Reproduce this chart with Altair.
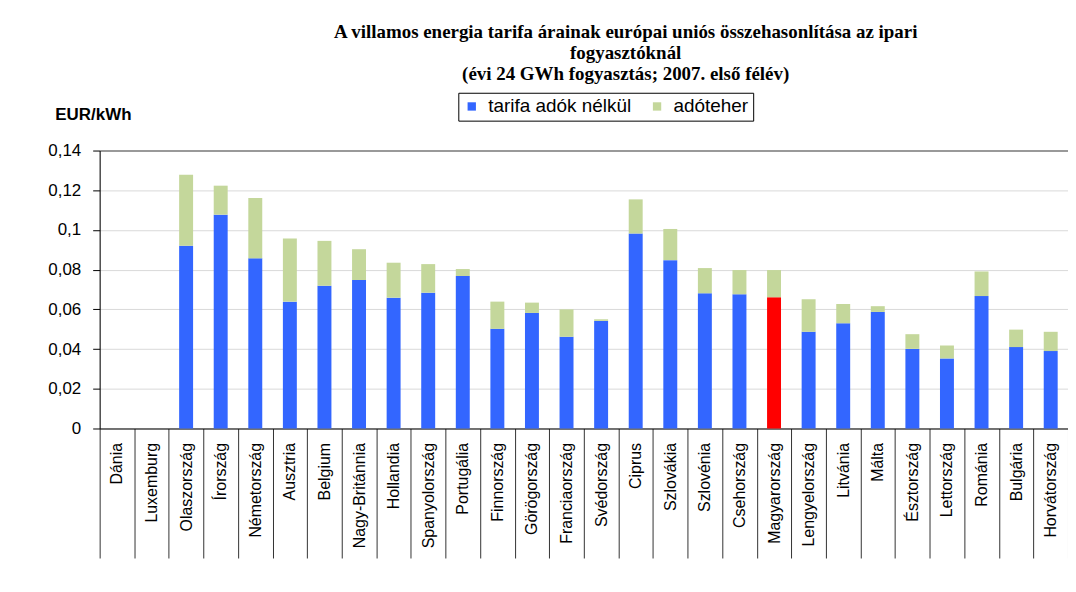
import altair as alt
import pandas as pd

countries = ["Dánia", "Luxemburg", "Olaszország", "Írország", "Németország", "Ausztria",
             "Belgium", "Nagy-Británnia", "Hollandia", "Spanyolország", "Portugália",
             "Finnország", "Görögország", "Franciaország", "Svédország", "Ciprus",
             "Szlovákia", "Szlovénia", "Csehország", "Magyarország", "Lengyelország",
             "Litvánia", "Málta", "Észtország", "Lettország", "Románia", "Bulgária",
             "Horvátország"]
tarifa = [0.0, 0.0, 0.0920, 0.1077, 0.0857, 0.0639, 0.0719, 0.0748, 0.0659, 0.0684, 0.0768,
          0.0502, 0.0582, 0.0462, 0.0542, 0.0982, 0.0848, 0.0681, 0.0676, 0.0661, 0.0487,
          0.0530, 0.0587, 0.0401, 0.0353, 0.0667, 0.0410, 0.0390]
adoteher = [0.0, 0.0, 0.0358, 0.0146, 0.0304, 0.0318, 0.0226, 0.0155, 0.0176, 0.0144, 0.0035,
            0.0137, 0.0052, 0.0138, 0.0008, 0.0172, 0.0157, 0.0127, 0.0122, 0.0137, 0.0164,
            0.0097, 0.0029, 0.0074, 0.0065, 0.0124, 0.0088, 0.0097]
series_names = ["tarifa adók nélkül", "adóteher"]
highlight = "Magyarország"
y_ticks = [0, 0.02, 0.04, 0.06, 0.08, 0.10, 0.12, 0.14]

rows = []
for c, b, t in zip(countries, tarifa, adoteher):
    rows.append({"orszag": c, "ertek": b, "sorozat": highlight if c == highlight else series_names[0], "ord": 0})
    rows.append({"orszag": c, "ertek": t, "sorozat": series_names[1], "ord": 1})
df = pd.DataFrame(rows)

SANS = "Liberation Sans"

chart = alt.Chart(df).mark_bar(size=14).encode(
    x=alt.X("orszag:N", sort=countries, title=None,
            scale=alt.Scale(paddingInner=0, paddingOuter=0),
            axis=alt.Axis(labelAngle=-90, labelAlign="right", labelBaseline="middle",
                          labelFont=SANS, labelFontSize=16, labelColor="black",
                          tickBand="extent", tickSize=130, tickColor="#333333",
                          labelPadding=-116, domainColor="black", labelOverlap=False)),
    y=alt.Y("ertek:Q", stack="zero",
            scale=alt.Scale(domain=[0, 0.14], nice=False),
            axis=alt.Axis(values=y_ticks,
                          labelExpr="replace(format(datum.value, '~g'), '.', ',')",
                          labelFont=SANS, labelFontSize=17, labelColor="black",
                          labelPadding=12, tickSize=7, tickColor="black",
                          domainColor="black",
                          gridColor={"condition": {"test": "datum.value >= 0.14", "value": "#999999"}, "value": "#d9d9d9"},
                          gridWidth={"condition": {"test": "datum.value >= 0.14", "value": 2}, "value": 1},
                          title="EUR/kWh", titleAngle=0, titleAlign="left",
                          titleBaseline="alphabetic", titleX=-45, titleY=-31,
                          titleFont=SANS, titleFontSize=17, titleFontWeight="bold",
                          titleColor="black")),
    color=alt.Color("sorozat:N",
                    scale=alt.Scale(domain=series_names + [highlight],
                                    range=["#3366FF", "#C4D79B", "#FF0000"]),
                    legend=alt.Legend(values=series_names, title=None, orient="none",
                                      legendX=360, legendY=-58, direction="horizontal",
                                      strokeColor="black", fillColor="white", padding=4,
                                      symbolType="square", symbolSize=70,
                                      symbolStrokeWidth=0, labelOffset=7,
                                      labelFont=SANS, labelFontSize=19,
                                      labelColor="black", columnPadding=16)),
    order=alt.Order("ord:Q"),
).properties(
    width=972,
    height=279,
    autosize=alt.AutoSizeParams(type="none"),
    padding={"left": 92, "top": 142, "right": 0, "bottom": 150},
    title=alt.Title(
        ["A villamos energia tarifa árainak európai uniós összehasonlítása az ipari",
         "fogyasztóknál",
         "(évi 24 GWh fogyasztás; 2007. első félév)"],
        font="Liberation Serif", fontSize=19, fontWeight="bold", color="black",
        lineHeight=21, anchor="middle", dx=42, offset=8),
).configure_view(stroke=None).configure(background="white")

chart.save("out.html", embed_options={"renderer": "svg", "actions": False})
